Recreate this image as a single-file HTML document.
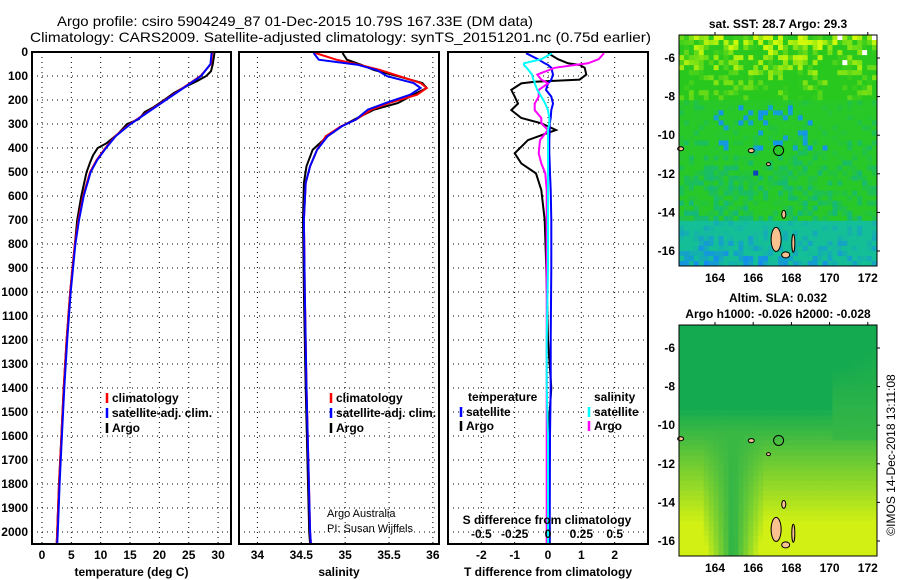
<!DOCTYPE html>
<html><head><meta charset="utf-8"><style>
body{margin:0;background:#fff}
svg{display:block;font-family:"Liberation Sans",sans-serif}
.t{font-size:12px;font-weight:bold}
</style></head><body>
<svg id="s" width="900" height="580" xmlns="http://www.w3.org/2000/svg">
<text x="57" y="26" font-size="14" textLength="476" lengthAdjust="spacingAndGlyphs">Argo profile: csiro 5904249_87 01-Dec-2015 10.79S 167.33E (DM data)</text>
<text x="30" y="42" font-size="14" textLength="621" lengthAdjust="spacingAndGlyphs">Climatology: CARS2009. Satellite-adjusted climatology: synTS_20151201.nc (0.75d earlier)</text>
<g id="maps"></g>
<text transform="translate(895,455) rotate(-90)" text-anchor="middle" font-size="12">©IMOS 14-Dec-2018 13:11:08</text>
</svg>
<script>
// ---- data ----
const depthT_argo = [0,50,80,100,120,150,170,200,230,250,280,300,340,380,400,430,460,480,500,600,700,800,900,1000,1200,1400,1600,1800,2000,2050];
const temp_argo   = [29.4,29.1,28.8,28,26.5,24,22.5,20.8,19,17.5,16.5,14.5,13,11,9.5,8.7,8.2,7.9,7.6,6.7,6,5.6,5.2,4.8,4.2,3.7,3.3,2.9,2.6,2.5];
const depthT_clim = [0,50,100,150,200,250,300,350,400,450,500,600,700,800,1000,1200,1400,1600,1800,2000,2050];
const temp_clim   = [29,28.8,27,24,21,18,15,12.5,10.8,9.3,8.2,7,6.2,5.6,4.8,4.2,3.7,3.3,2.9,2.6,2.5];
const temp_sat    = [28.9,28.7,27.1,24.1,21.1,18.1,15.1,12.6,10.9,9.4,8.3,7.1,6.3,5.7,4.9,4.3,3.8,3.4,3.0,2.7,2.6];
const depthS = [4,32,53,75,101,129,150,178,213,240,282,310,351,407,476,546,700,1000,1400,2000,2050];
const sal_argo = [34.97,35.02,35.18,35.33,35.6,35.88,35.93,35.78,35.6,35.33,35.1,34.96,34.8,34.63,34.56,34.53,34.52,34.53,34.55,34.59,34.6];
const sal_clim = [34.66,34.9,35.16,35.4,35.62,35.86,35.93,35.82,35.5,35.3,35.12,34.95,34.78,34.68,34.6,34.55,34.53,34.54,34.56,34.6,34.61];
const sal_sat  = [34.64,34.7,35.14,35.36,35.48,35.78,35.86,35.74,35.46,35.26,35.12,34.96,34.8,34.68,34.6,34.55,34.53,34.54,34.56,34.6,34.61];
const depthD = [5,30,47,54,66,94,115,124,131,158,186,215,242,275,297,325,367,422,464,506,575,700,900,1200,1400,1600,2000,2050];
const dT_argo = [0,0.3,0.6,0.95,1.1,1.15,0.95,-0.4,-0.8,-1.1,-1.0,-0.9,-1.1,-0.8,-0.2,0.24,-0.6,-1.0,-0.8,-0.36,-0.2,-0.1,-0.05,0,0.1,0,0.05,0.05];
const dT_sat  = [-0.66,-0.3,-0.1,0,0.1,0.15,0.1,0.05,0,-0.06,0.1,0.15,0.1,0.08,0.05,0.05,0.04,0.04,0.05,0.06,0.08,0.1,0.1,0.08,0.08,0.06,0.05,0.05];
const dS_argo = [0.42,0.38,0.3,0.2,0.05,-0.08,-0.05,-0.02,0,-0.07,-0.07,-0.1,-0.1,-0.05,-0.05,0,-0.06,-0.07,-0.05,-0.02,-0.01,-0.01,-0.01,-0.01,-0.01,-0.01,-0.01,-0.01];
const dS_sat  = [0.03,-0.05,-0.18,-0.18,-0.16,-0.12,-0.11,-0.1,-0.1,-0.08,-0.05,-0.02,0,0.01,0.01,0,0,0,0,0,0,0,0,-0.01,-0.01,0,0,0];
const depthTicks = [0,100,200,300,400,500,600,700,800,900,1000,1100,1200,1300,1400,1500,1600,1700,1800,1900,2000];

const NS="http://www.w3.org/2000/svg", svg=document.getElementById('s');
function mk(tag,at,par){const e=document.createElementNS(NS,tag);for(const k in at)e.setAttribute(k,at[k]);(par||svg).appendChild(e);return e;}
const Y0=52, Y1=544, DMAX=2050;
const yD = d => Y0 + d/DMAX*(Y1-Y0);

function panel(name,x0,x1,vmin,vmax,ticks,labels,xlabel,leftLabels){
  const g=mk('g',{});
  
  
  const sx=v=>x0+(v-vmin)/(vmax-vmin)*(x1-x0);
  depthTicks.forEach(d=>{
    const gl=mk('line',{x1:x0,x2:x1,y1:yD(d),y2:yD(d),stroke:'#000','stroke-dasharray':'1,4'},g);
    
    
    if(leftLabels){
      const t=mk('text',{x:x0-4,y:yD(d)+4,'text-anchor':'end',class:'t'},g);
      
      
      t.textContent=d;
    }
  });
  ticks.forEach((v,i)=>{
    const gl=mk('line',{x1:sx(v),x2:sx(v),y1:Y0,y2:Y1,stroke:'#000','stroke-dasharray':'1,4'},g);
    
    
    const t=mk('text',{x:sx(v),y:559,'text-anchor':'middle',class:'t'},g);
    
    
    t.textContent=labels[i];
  });
  const xl=mk('text',{x:(x0+x1)/2,y:576,'text-anchor':'middle',class:'t'},g);
  
  
  xl.textContent=xlabel;
  return {g,sx,x0,x1};
}
function frame(p){
  const r=mk('rect',{x:p.x0,y:Y0,width:p.x1-p.x0,height:Y1-Y0,fill:'none',stroke:'#000','stroke-width':2},p.g);
  
  
}
function line(p,vals,depths,color,name,sx){
  const f=sx||p.sx;
  const pts=vals.map((v,i)=>f(v).toFixed(1)+','+yD(depths[i]).toFixed(1)).join(' ');
  const l=mk('polyline',{points:pts,fill:'none',stroke:color,'stroke-width':2},p.g);
  
  
}
function legend(p,x,y,color,text){
  const m=mk('line',{x1:x,x2:x,y1:y-9,y2:y+1,stroke:color,'stroke-width':2.5},p.g);
  
  
  const t=mk('text',{x:x+5,y:y,class:'t'},p.g);
  
  
  t.textContent=text;
}
// panel 1
const p1=panel('temperature-panel',32,231,-1.7,32.2,[0,5,10,15,20,25,30],['0','5','10','15','20','25','30'],'temperature (deg C)',true);
line(p1,temp_argo,depthT_argo,'#000','temp-argo-line');
line(p1,temp_clim,depthT_clim,'#f00','temp-clim-line');
line(p1,temp_sat,depthT_clim,'#00f','temp-sat-line');
legend(p1,107,402,'#f00','climatology');legend(p1,107,417,'#00f','satellite-adj. clim.');legend(p1,107,432,'#000','Argo');
frame(p1);
// panel 2
const p2=panel('salinity-panel',239,439,33.79,36.07,[34,34.5,35,35.5,36],['34','34.5','35','35.5','36'],'salinity',false);
line(p2,sal_argo,depthS,'#000','sal-argo-line');
line(p2,sal_clim,depthS,'#f00','sal-clim-line');
line(p2,sal_sat,depthS,'#00f','sal-sat-line');
legend(p2,331,402,'#f00','climatology');legend(p2,331,417,'#00f','satellite-adj. clim.');legend(p2,331,432,'#000','Argo');
[['Argo Australia',517],['PI: Susan Wijffels',532]].forEach(a=>{const t=mk('text',{x:327,y:a[1],'font-size':11},p2.g);t.textContent=a[0];});
frame(p2);
// panel 3
const p3=panel('difference-panel',448,648,-3,3,[-2,-1,0,1,2],['-2','-1','0','1','2'],'T difference from climatology',false);
const sxS=v=>p3.sx(v*4);
line(p3,dT_argo,depthD,'#000','dT-argo-line');
line(p3,dT_sat,depthD,'#00f','dT-sat-line');
line(p3,dS_argo,depthD,'#f0f','dS-argo-line',sxS);
line(p3,dS_sat,depthD,'#0ff','dS-sat-line',sxS);
[['temperature',468,401],['salinity',594,401]].forEach(a=>{const t=mk('text',{x:a[1],y:a[2],class:'t'},p3.g);t.textContent=a[0];});
legend(p3,461,416,'#00f','satellite');legend(p3,461,430,'#000','Argo');
legend(p3,589,416,'#0ff','satellite');legend(p3,589,430,'#f0f','Argo');
const st=mk('text',{x:547,y:524,'text-anchor':'middle',class:'t'},p3.g);st.textContent='S difference from climatology';
[-0.5,-0.25,0,0.25,0.5].forEach(v=>{const t=mk('text',{x:sxS(v),y:538,'text-anchor':'middle',class:'t'},p3.g);t.textContent=String(v);});
frame(p3);

// ---- maps ----
const lonTicks=[164,166,168,170,172], latTicks=[-6,-8,-10,-12,-14,-16];
function hash(i,j){let h=(i*374761393+j*668265263)>>>0;h=((h^(h>>>13))*1274126177)>>>0;return ((h^(h>>>16))%1000)/1000;}
function map(name,top,title,colorFn){
  const g=mk('g',{},document.getElementById('maps'));
  
  
  const X0=679,X1=877,Y=top,H=231;
  const lx=l=>715+(l-164)*19.1, ly=l=>Y+23+(-6-l)*19.3;
  const cw=198/40, ch=H/46;
  for(let i=0;i<40;i++)for(let j=0;j<46;j++){
    mk('rect',{x:(X0+i*cw).toFixed(2),y:(Y+j*ch).toFixed(2),width:(cw+0.4).toFixed(2),height:(ch+0.4).toFixed(2),fill:colorFn(i/40,j/46,hash(i,j)-0.5)},g);
  }
  [[167.2,-15.4,5,12],[167.7,-16.2,4,3],[162.2,-10.7,3,2],[165.9,-10.8,3,2],[167.6,-14.1,2,4],[168.1,-15.6,1.5,9],[166.8,-11.5,2,1.5]].forEach(a=>{
    const e=mk('ellipse',{cx:lx(a[0]),cy:ly(a[1]),rx:a[2],ry:a[3],fill:'#f9c090',stroke:'#000','stroke-width':1},g);
    
    
  });
  const c=mk('circle',{cx:lx(167.33),cy:ly(-10.79),r:5,fill:'none',stroke:'#000','stroke-width':1},g);
  
  
  const f=mk('rect',{x:X0,y:Y,width:X1-X0,height:H,fill:'none',stroke:'#000','stroke-width':1},g);
  
  
  lonTicks.forEach(l=>{
    mk('line',{x1:lx(l),x2:lx(l),y1:Y-3,y2:Y,stroke:'#000'},g);
    const t=mk('text',{x:lx(l),y:Y+H+16,'text-anchor':'middle',class:'t'},g);
    
    
    t.textContent=l;
  });
  latTicks.forEach(l=>{
    mk('line',{x1:X1,x2:X1+3,y1:ly(l),y2:ly(l),stroke:'#000'},g);
    const t=mk('text',{x:X0-4,y:ly(l)+4,'text-anchor':'end',class:'t'},g);
    
    
    t.textContent=l;
  });
  title.forEach((s,k)=>{
    const t=mk('text',{x:778,y:top-(title.length-k)*16+9,'text-anchor':'middle',class:'t'},g);
    
    
    t.textContent=s;
  });
}
function mix(a,b,t){t=Math.max(0,Math.min(1,t));return 'rgb('+a.map((v,i)=>Math.round(v+(b[i]-v)*t)).join(',')+')';}
map('sst-map',35,['sat. SST: 28.7 Argo: 29.3'],(u,v,h)=>{
  if(u>0.78&&v<0.12&&h>0.3) return '#fff';
  if(v<0.28) return mix([40,200,30],[210,250,10],(0.28-v)*3+h*0.8-0.05);
  if(v>0.8) return mix([20,190,150],[20,140,240],(v-0.8)*5*(1-u*0.6)+h*0.6);
  if(v>0.3&&v<0.5&&u>0.15&&u<0.75&&h>0.25) return mix([20,190,150],[20,150,230],h*2.5);
  if(h>0.485&&v<0.6) return '#1040c0';
  return mix([40,200,40],[20,185,120],(v-0.3)*1.6+h*0.9);
});
map('sla-map',325,['Altim. SLA: 0.032','Argo h1000: -0.026 h2000: -0.028'],(u,v,h)=>{
  let t=(v-0.35)*2.0;
  if(v>0.45&&u>0.1&&u<0.42) t-= (v-0.45)*2.2*Math.max(0,1-Math.abs(u-0.26)*6);
  if(v<0.5&&u>0.75) t+= (0.5-v)*1.5-0.1;
  if(v<0.3) t-= (0.3-v)*0.8*(1-Math.abs(u-0.45)*2);
  return mix([20,170,80],[210,240,20],t);
});
</script>
</body></html>
